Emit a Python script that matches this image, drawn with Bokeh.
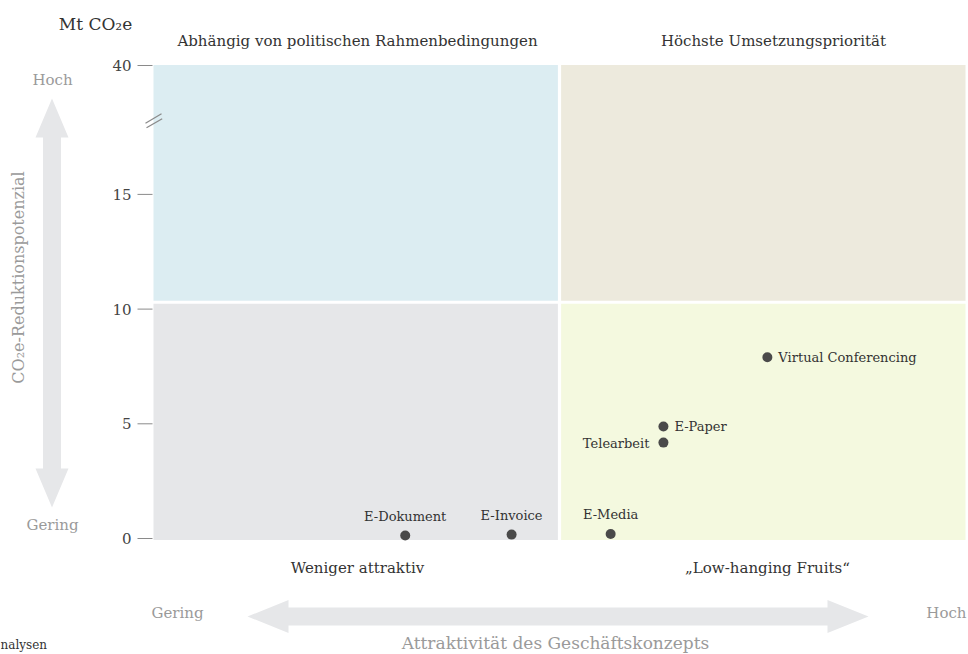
import math
from bokeh.plotting import figure
from bokeh.models import Range1d, ColumnDataSource
from bokeh.core.properties import value
from bokeh.embed import file_html
from bokeh.resources import INLINE

# ---------------- data ----------------
names = ["E-Dokument", "E-Invoice", "E-Media", "Telearbeit", "E-Paper", "Virtual Conferencing"]
attractiveness = [31.0, 44.1, 56.3, 62.8, 62.8, 75.6]      # 0..100, split at 50
reduction = [0.13, 0.17, 0.20, 4.18, 4.88, 7.90]           # Mt CO2e
label_side = ["above", "above", "above", "left", "right", "right"]

y_ticks = [0, 5, 10, 15, 40]
y_tick_labels = ["0", "5", "10", "15", "40"]
y_break_below = 15

x_split = 50
x_max = 100
y_split = 10.3

quad_titles_top = ["Abhängig von politischen Rahmenbedingungen", "Höchste Umsetzungspriorität"]
quad_titles_bottom = ["Weniger attraktiv", "„Low-hanging Fruits“"]
quad_colors = ["#dcedf2", "#edeadd", "#e6e7e9", "#f4f9df"]  # TL, TR, BL, BR

unit_label = "Mt CO₂e"
y_title = "CO₂e-Reduktionspotenzial"
x_title = "Attraktivität des Geschäftskonzepts"
low_label = "Gering"
high_label = "Hoch"
source_text = "nalysen"

# ---------------- geometry ----------------
W, H = 968, 654
PXX = 8.12      # px per x unit
PXY = 22.94     # px per y unit
X0 = 153        # canvas px of x = 0
Y0 = 538        # canvas px (from top) of y = 0


def X(px):
    return (px - X0) / PXX


def Y(py):
    return (Y0 - py) / PXY


y_top = Y(64.5)


def disp(v):
    return v if v <= y_break_below else Y(65)


FONT = value("DejaVu Serif")
DARK = "#333333"
GRAY = "#9a9a9a"
ARROW = "#e6e7e9"

p = figure(width=W, height=H, output_backend="svg", toolbar_location=None,
           x_range=Range1d(X(0), X(W)), y_range=Range1d(Y(H), Y(0)),
           x_axis_type=None, y_axis_type=None, min_border=0)
p.outline_line_color = None
p.grid.visible = False
p.background_fill_color = "white"
p.border_fill_color = "white"

# quadrants
gx = 1.6 / PXX
gy = 1.5 / PXY
y_bot = Y(539.5)
p.quad(left=[0, x_split + gx, 0, x_split + gx],
       right=[x_split - gx, x_max, x_split - gx, x_max],
       bottom=[y_split + gy, y_split + gy, y_bot, y_bot],
       top=[y_top, y_top, y_split - gy, y_split - gy],
       fill_color=quad_colors, line_color=None)

# y ticks
tick_y = [disp(v) for v in y_ticks]
p.segment(x0=[X(137)] * len(tick_y), x1=[X(152)] * len(tick_y), y0=tick_y, y1=tick_y,
          line_color="#8a8a8a", line_width=1)
p.text(x=[X(131)] * len(tick_y), y=tick_y, text=y_tick_labels, text_font=FONT,
       text_font_size="15px", text_color="#444444", text_align="right", text_baseline="middle")

# axis break marker
p.segment(x0=[X(145), X(146)], y0=[Y(122.7), Y(127.3)],
          x1=[X(161), X(161.7)], y1=[Y(113.3), Y(118.3)],
          line_color="#8a8a8a", line_width=1.3)

# points
p.scatter(attractiveness, reduction, size=10, fill_color="#4a4a4a", line_color=None)

for side, align, xo, yo in [("above", "center", 0, -19), ("left", "right", -14, 1),
                            ("right", "left", 11, 0)]:
    idx = [i for i, s in enumerate(label_side) if s == side]
    src = ColumnDataSource(dict(x=[attractiveness[i] for i in idx],
                                y=[reduction[i] for i in idx],
                                t=[names[i] for i in idx]))
    p.text(x="x", y="y", text="t", source=src, x_offset=xo, y_offset=yo,
           text_font=FONT, text_font_size="13px", text_color=DARK,
           text_align=align, text_baseline="middle")

# quadrant titles
p.text(x=[X(357), X(773)], y=[Y(40)] * 2, text=quad_titles_top, text_font=FONT,
       text_font_size="15px", text_color=DARK, text_align="center", text_baseline="middle")
p.text(x=[X(357), X(767)], y=[Y(567)] * 2, text=quad_titles_bottom, text_font=FONT,
       text_font_size="15px", text_color=DARK, text_align="center", text_baseline="middle")

# unit
p.text(x=[X(95)], y=[Y(23)], text=[unit_label], text_font=FONT, text_font_size="17px",
       text_color=DARK, text_align="center", text_baseline="middle")

# vertical arrow
cx, t, b, hl, hw, sw = 51.5, 98, 507, 39, 16.5, 9
vx = [cx, cx + hw, cx + sw, cx + sw, cx + hw, cx, cx - hw, cx - sw, cx - sw, cx - hw]
vy = [t, t + hl, t + hl, b - hl, b - hl, b, b - hl, b - hl, t + hl, t + hl]
p.patch([X(v) for v in vx], [Y(v) for v in vy], fill_color=ARROW, line_color=None)

# horizontal arrow
cy, l, r = 616, 247, 868
hl2 = 41
hx = [l, l + hl2, l + hl2, r - hl2, r - hl2, r, r - hl2, r - hl2, l + hl2, l + hl2]
hy = [cy, cy - hw, cy - sw, cy - sw, cy - hw, cy, cy + hw, cy + sw, cy + sw, cy + hw]
p.patch([X(v) for v in hx], [Y(v) for v in hy], fill_color=ARROW, line_color=None)

# gray labels
p.text(x=[X(52), X(52), X(177)], y=[Y(79), Y(524), Y(612)],
       text=[high_label, low_label, low_label], text_font=FONT, text_font_size="15px",
       text_color=GRAY, text_align="center", text_baseline="middle")
p.text(x=[X(966)], y=[Y(612)], text=[high_label], text_font=FONT, text_font_size="15px",
       text_color=GRAY, text_align="right", text_baseline="middle")

# axis titles
p.text(x=[X(18)], y=[Y(277)], text=[y_title], angle=math.pi / 2, text_font=FONT,
       text_font_size="16px", text_color=GRAY, text_align="center", text_baseline="middle")
p.text(x=[X(555)], y=[Y(642)], text=[x_title], text_font=FONT, text_font_size="17px",
       text_color=GRAY, text_align="center", text_baseline="middle")

# source fragment
p.text(x=[X(0)], y=[Y(644)], text=[source_text], text_font=FONT, text_font_size="12px",
       text_color=DARK, text_align="left", text_baseline="middle")

open("out.html", "w").write(file_html(p, INLINE))
